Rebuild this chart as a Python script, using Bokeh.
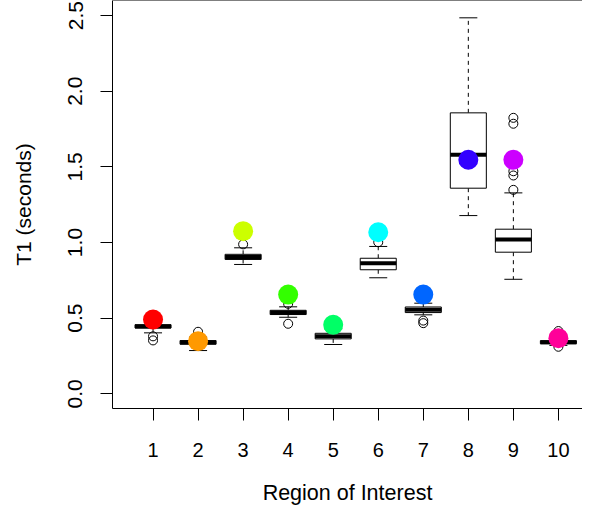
from bokeh.plotting import figure
from bokeh.models import Range1d, FixedTicker, NumeralTickFormatter, ColumnDataSource, Span
from bokeh.embed import file_html
from bokeh.resources import INLINE

# ---- data ----
regions = [1, 2, 3, 4, 5, 6, 7, 8, 9, 10]
q1 = [0.435, 0.328, 0.888, 0.524, 0.363, 0.820, 0.537, 1.359, 0.936, 0.331]
med = [0.445, 0.340, 0.905, 0.537, 0.380, 0.863, 0.555, 1.580, 1.020, 0.341]
q3 = [0.457, 0.352, 0.922, 0.552, 0.400, 0.896, 0.574, 1.857, 1.088, 0.351]
whisk_lo = [0.403, 0.286, 0.855, 0.506, 0.326, 0.767, 0.522, 1.178, 0.757, 0.320]
whisk_hi = [0.480, 0.375, 0.965, 0.575, 0.430, 0.974, 0.599, 2.485, 1.328, 0.365]
out_region = [1, 1, 2, 3, 4, 4, 6, 7, 7, 9, 9, 9, 9, 9, 10, 10]
out_value = [0.380, 0.353, 0.410, 0.988, 0.595, 0.463, 1.002, 0.484, 0.467,
             1.348, 1.443, 1.471, 1.785, 1.824, 0.415, 0.311]
dot_value = [0.491, 0.348, 1.075, 0.656, 0.456, 1.068, 0.656, 1.547, 1.547, 0.368]
dot_color = ["#FF0000", "#FF9900", "#CCFF00", "#33FF00", "#00FF66",
             "#00FFFF", "#0066FF", "#3300FF", "#CC00FF", "#FF0099"]
y_ticks = [0.0, 0.5, 1.0, 1.5, 2.0, 2.5]
x_label = "Region of Interest"
y_label = "T1 (seconds)"

box_w = 0.8
staple_w = 0.4
y_top = 2.5995

src = ColumnDataSource(dict(
    x=regions, q1=q1, med=med, q3=q3, lo=whisk_lo, hi=whisk_hi,
    xl=[r - box_w / 2 for r in regions], xr=[r + box_w / 2 for r in regions],
    sl=[r - staple_w / 2 for r in regions], sr=[r + staple_w / 2 for r in regions],
    dot=dot_value, color=dot_color,
))

p = figure(width=582, height=509, output_backend="svg", toolbar_location=None,
           x_range=Range1d(0.1, 10.535), y_range=Range1d(-0.097, y_top),
           min_border_left=112, min_border_right=0, min_border_top=0,
           min_border_bottom=101)
p.outline_line_color = None
p.grid.visible = False
p.background_fill_color = "white"
p.border_fill_color = "white"

FONT = "Liberation Sans"
for ax in (p.xaxis[0], p.yaxis[0]):
    ax.axis_line_color = "black"
    ax.axis_line_width = 1
    ax.major_tick_line_color = "black"
    ax.major_tick_in = 0
    ax.major_tick_out = 12
    ax.minor_tick_line_color = None
    ax.major_label_text_font = FONT
    ax.major_label_text_color = "black"
    ax.axis_label_text_font = FONT
    ax.axis_label_text_font_size = "21px"
    ax.axis_label_text_font_style = "normal"
    ax.axis_label_text_color = "black"

p.xaxis.ticker = FixedTicker(ticks=regions)
p.xaxis.major_label_text_font_size = "20px"
p.xaxis.major_label_standoff = 22
p.xaxis.axis_label = x_label
p.xaxis.axis_label_standoff = 21
p.xaxis.axis_label_text_font_size = "21.5px"

p.yaxis.ticker = FixedTicker(ticks=y_ticks)
p.yaxis.formatter = NumeralTickFormatter(format="0.0")
p.yaxis.major_label_orientation = "vertical"
p.yaxis.major_label_text_font_size = "21px"
p.yaxis.major_label_standoff = 18
p.yaxis.axis_label = y_label
p.yaxis.axis_label_standoff = 31

# top edge of the plot box
p.add_layout(Span(location=y_top, dimension="width", line_color="black", line_width=1))

# whiskers (dashed)
p.segment(x0="x", y0="q3", x1="x", y1="hi", source=src, line_color="black",
          line_width=1, line_dash="4 4")
p.segment(x0="x", y0="q1", x1="x", y1="lo", source=src, line_color="black",
          line_width=1, line_dash="4 4")
# staples
p.segment(x0="sl", y0="hi", x1="sr", y1="hi", source=src, line_color="black", line_width=1)
p.segment(x0="sl", y0="lo", x1="sr", y1="lo", source=src, line_color="black", line_width=1)
# boxes
p.quad(left="xl", right="xr", bottom="q1", top="q3", source=src,
       fill_color="white", line_color="black", line_width=1)
# medians
p.segment(x0="xl", y0="med", x1="xr", y1="med", source=src, line_color="black",
          line_width=4, line_cap="butt")
# outliers
p.scatter(out_region, out_value, marker="circle", size=9, fill_color=None,
          line_color="black", line_width=1)
# coloured points
p.scatter(x="x", y="dot", source=src, marker="circle", size=20,
          fill_color="color", line_color=None)

open("out.html", "w").write(file_html(p, INLINE))
